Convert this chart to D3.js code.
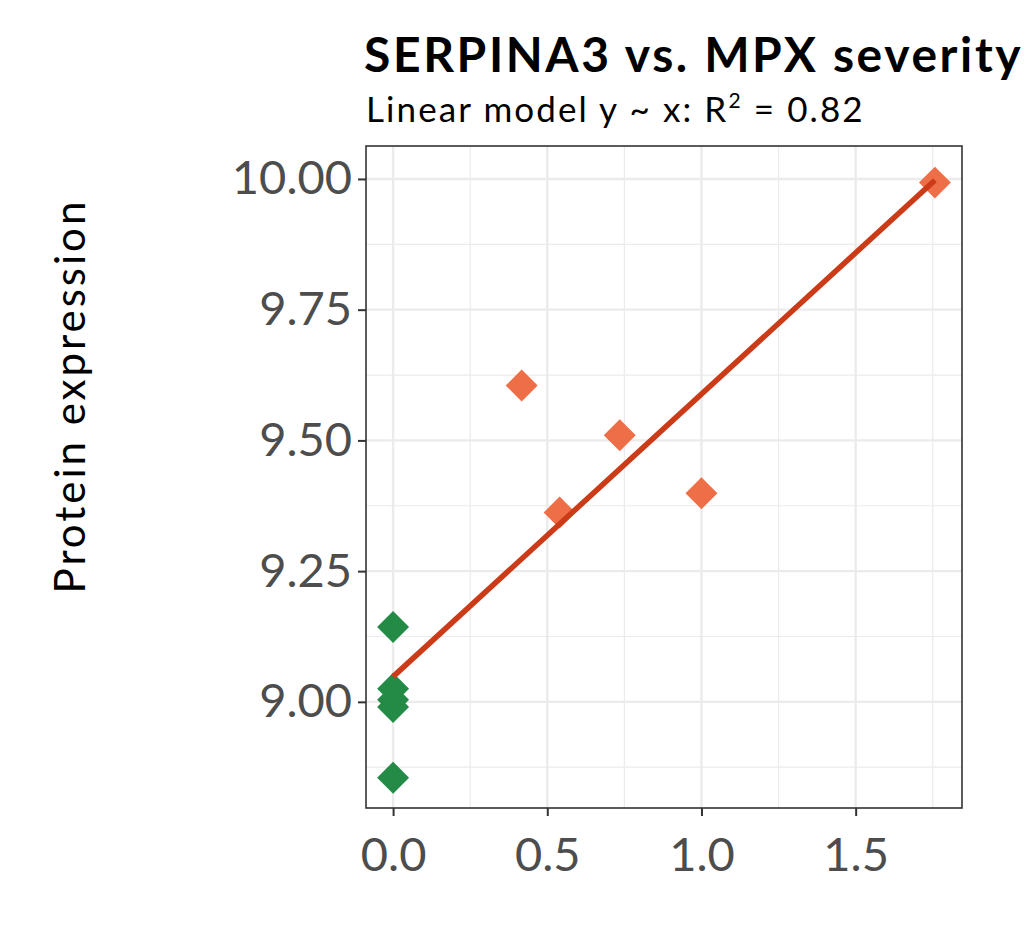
<!DOCTYPE html>
<html>
<head>
<meta charset="utf-8">
<script src="https://cdn.jsdelivr.net/npm/d3@7"></script>
<style>
  body { margin: 0; background: #fff; }
  text { font-family: Lato, "Open Sans", sans-serif; }
</style>
</head>
<body>
<svg id="chart" width="1026" height="951"></svg>
<script>
// severity score (x) and SERPINA3 protein expression (y)
var severity   = [0, 0, 0, 0, 0, 0.417, 0.54, 0.735, 1.0, 1.757];
var expression = [9.143, 9.025, 9.004, 8.99, 8.855, 9.605, 9.362, 9.51, 9.399, 9.993];
var group      = ["none", "none", "none", "none", "none", "case", "case", "case", "case", "case"];

var xTicks = [0, 0.5, 1.0, 1.5];
var yTicks = [9.00, 9.25, 9.50, 9.75, 10.00];

var titleText = "SERPINA3 vs. MPX severity";
var yLabel = "Protein expression";

var colors = { none: "#238b45", case: "#ee6f47" };
var lineColor = "#cc3b17";

var margin = {top: 146, left: 366, right: 64, bottom: 143};
var W = 1026, H = 951;
var pw = W - margin.left - margin.right,
    ph = H - margin.top - margin.bottom;

var svg = d3.select("#chart");
var g = svg.append("g").attr("transform", "translate(" + margin.left + "," + margin.top + ")");

// ggplot style 5% expansion on x; y limits as in the original panel
function expand(ext) {
    var d = (ext[1] - ext[0]) * 0.05;
    return [ext[0] - d, ext[1] + d];
}
var x = d3.scaleLinear().domain(expand(d3.extent(severity))).range([0, pw]);
var y = d3.scaleLinear().domain([8.797, 10.063]).range([ph, 0]);

// minor grid at midpoints
var xMinor = xTicks.map(function(t) { return t + 0.25; }).filter(function(t) { return t <= x.domain()[1]; });
var yMinor = [8.875].concat(yTicks.map(function(t) { return t + 0.125; })).filter(function(t) { return t >= y.domain()[0] && t <= y.domain()[1]; });

g.append("g").selectAll("line").data(xMinor).enter().append("line")
    .attr("x1", x).attr("x2", x).attr("y1", 0).attr("y2", ph)
    .attr("stroke", "#ebebeb").attr("stroke-width", 1.2);
g.append("g").selectAll("line").data(yMinor).enter().append("line")
    .attr("y1", y).attr("y2", y).attr("x1", 0).attr("x2", pw)
    .attr("stroke", "#ebebeb").attr("stroke-width", 1.2);
g.append("g").selectAll("line").data(xTicks).enter().append("line")
    .attr("x1", x).attr("x2", x).attr("y1", 0).attr("y2", ph)
    .attr("stroke", "#ebebeb").attr("stroke-width", 2.4);
g.append("g").selectAll("line").data(yTicks).enter().append("line")
    .attr("y1", y).attr("y2", y).attr("x1", 0).attr("x2", pw)
    .attr("stroke", "#ebebeb").attr("stroke-width", 2.4);

// points
var pts = severity.map(function(v, i) { return {x: v, y: expression[i], g: group[i]}; });
var diamond = d3.symbol().type(d3.symbolSquare).size(510);
g.append("g").selectAll("path").data(pts).enter().append("path")
    .attr("d", diamond)
    .attr("transform", function(d) { return "translate(" + x(d.x) + "," + y(d.y) + ") rotate(45)"; })
    .attr("fill", function(d) { return colors[d.g]; });

// least squares fit
var mx = d3.mean(severity), my = d3.mean(expression);
var sxy = d3.sum(severity, function(v, i) { return (v - mx) * (expression[i] - my); });
var sxx = d3.sum(severity, function(v) { return (v - mx) * (v - mx); });
var slope = sxy / sxx, intercept = my - slope * mx;
var ssTot = d3.sum(expression, function(v) { return (v - my) * (v - my); });
var ssRes = d3.sum(expression, function(v, i) { var f = intercept + slope * severity[i]; return (v - f) * (v - f); });
var r2 = 1 - ssRes / ssTot;
var xr = d3.extent(severity);
g.append("line")
    .attr("x1", x(xr[0])).attr("y1", y(intercept + slope * xr[0]))
    .attr("x2", x(xr[1])).attr("y2", y(intercept + slope * xr[1]))
    .attr("stroke", lineColor).attr("stroke-width", 5.5);

// panel border
g.append("rect").attr("width", pw).attr("height", ph)
    .attr("fill", "none").attr("stroke", "#333").attr("stroke-width", 1.6);

// axes
var xAxis = g.append("g").attr("transform", "translate(0," + ph + ")")
    .call(d3.axisBottom(x).tickValues(xTicks).tickFormat(d3.format(".1f")).tickSize(8).tickPadding(22));
var yAxis = g.append("g")
    .call(d3.axisLeft(y).tickValues(yTicks).tickFormat(d3.format(".2f")).tickSize(8).tickPadding(6));
[xAxis, yAxis].forEach(function(a) {
    a.select(".domain").remove();
    a.selectAll(".tick line").attr("stroke", "#333").attr("stroke-width", 2);
    a.selectAll(".tick text").attr("fill", "#4d4d4d").style("font-size", "47px").style("font-family", "Lato, sans-serif");
});
xAxis.selectAll(".tick text").attr("dy", "0.71em");

// titles
svg.append("text").attr("x", 364).attr("y", 72)
    .style("font-size", "48px").style("font-weight", "bold").style("letter-spacing", "2.6px").attr("fill", "#000")
    .text(titleText);
var sub = svg.append("text").attr("x", 366).attr("y", 122)
    .style("font-size", "35px").style("letter-spacing", "2.1px").attr("fill", "#000");
sub.append("tspan").text("Linear model y ~ x: R");
sub.append("tspan").attr("dy", -14).style("font-size", "21px").text("2");
sub.append("tspan").attr("dy", 14).text(" = " + d3.format(".2f")(r2));

svg.append("text")
    .attr("transform", "translate(85," + 396 + ") rotate(-90)")
    .attr("text-anchor", "middle")
    .style("font-size", "42px").style("letter-spacing", "3px").attr("fill", "#000")
    .text(yLabel);
</script>
</body>
</html>
